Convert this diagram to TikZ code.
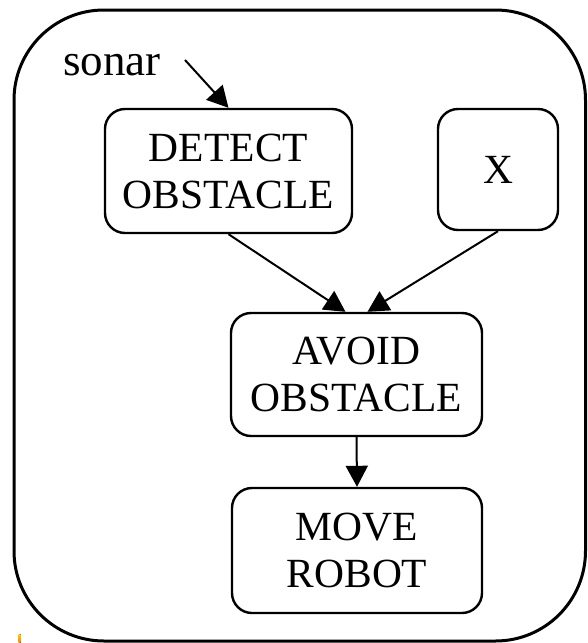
\documentclass[tikz,border=0pt]{standalone}
\usepackage{fontspec}
\setmainfont{Liberation Serif}
\usetikzlibrary{arrows.meta}

\tikzset{
  behaviour/.style={draw, line width=2.4pt, rounded corners=20pt, inner sep=0pt,
    align=center, font=\fontsize{41.5}{47}\selectfont},
  flow/.style={line width=2pt, -{Triangle[length=21pt,width=22pt]}},
  frame/.style={draw, line width=3pt, rounded corners=90pt},
}

\begin{document}
\begin{tikzpicture}[x=1pt, y=-1pt]
  \useasboundingbox (0,0) rectangle (587,643);

  % enclosing behaviour frame
  \draw[frame] (14,10) rectangle (585.5,641);

  % behaviour modules
  \node[behaviour, minimum width=247pt, minimum height=124pt] (detect) at (228.5,171) {DETECT\\OBSTACLE};
  \node[behaviour, minimum width=120pt, minimum height=121pt] (x) at (498,169.5) {X};
  \node[behaviour, minimum width=251pt, minimum height=123pt] (avoid) at (356.5,374.5) {AVOID\\OBSTACLE};
  \node[behaviour, minimum width=250pt, minimum height=125pt] (move) at (357,550.5) {MOVE\\ROBOT};

  % sensor input
  \node[font=\fontsize{45}{46}\selectfont, anchor=base] (sonar) at (112,75) {sonar};
  \coordinate (sonarend) at (185,60);

  % connectors
  \draw[flow] (sonarend) -- (detect.north);
  \draw[flow] (detect.south) -- ([xshift=-11pt]avoid.north);
  \draw[flow] (x.south) -- ([xshift=11pt]avoid.north);
  \draw[flow] (avoid.south) -- (move.north);

  % small coloured mark at the lower left edge
  \fill[top color=orange!40!yellow, bottom color=orange] (18.5,634) rectangle (20.5,643);
\end{tikzpicture}
\end{document}
